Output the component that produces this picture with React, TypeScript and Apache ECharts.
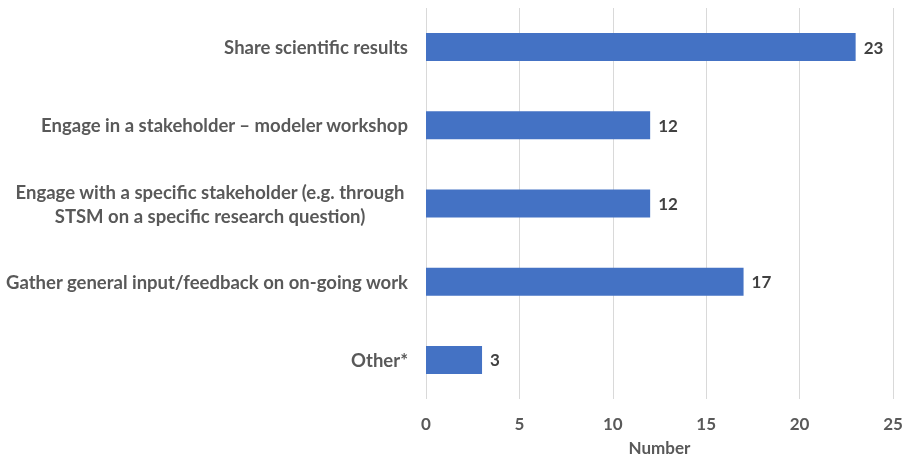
import React, { useEffect, useRef } from "react";
import * as echarts from "echarts";

const categories = [
  "Share scientific results",
  "Engage in a stakeholder – modeler workshop",
  "Engage with a specific stakeholder (e.g. through\nSTSM on a specific research question)",
  "Gather general input/feedback on on-going work",
  "Other*",
];
const values = [23, 12, 12, 17, 3];
const xTicks = { min: 0, max: 25, interval: 5 };
const xName = "Number";

export default function App() {
  const ref = useRef<HTMLDivElement>(null);
  useEffect(() => {
    if (!ref.current) return;
    const chart = echarts.init(ref.current, null, { renderer: "svg" });
    const font = "Lato, 'Open Sans', sans-serif";
    const gray = "#595959";
    chart.setOption({
      animation: false,
      grid: {
        left: 426,
        right: 10,
        top: 8,
        bottom: 60,
        containLabel: false,
        outerBoundsMode: "none",
      },
      xAxis: {
        type: "value",
        min: xTicks.min,
        max: xTicks.max,
        interval: xTicks.interval,
        name: xName,
        nameLocation: "middle",
        nameGap: 40,
        nameTextStyle: { color: gray, fontWeight: "bold", fontSize: 17, fontFamily: font },
        axisLine: { show: false },
        axisTick: { show: false },
        axisLabel: { color: gray, fontWeight: "bold", fontSize: 17, fontFamily: font, margin: 16 },
        splitLine: { lineStyle: { color: "#d9d9d9", width: 1 } },
      },
      yAxis: {
        type: "category",
        inverse: true,
        data: categories,
        axisLine: { show: false },
        axisTick: { show: false },
        axisLabel: {
          margin: 18,
          color: gray,
          fontWeight: "bold",
          fontSize: 18.5,
          fontFamily: font,
          lineHeight: 24,
          formatter: (v: string) => {
            if (v.includes("\n")) {
              return v
                .split("\n")
                .map((l) => `{c|${l}}`)
                .join("\n");
            }
            return v;
          },
          rich: {
            c: {
              width: 396,
              align: "center",
              color: gray,
              fontWeight: "bold",
              fontSize: 18.5,
              fontFamily: font,
              lineHeight: 24,
            },
          },
        },
      },
      series: [
        {
          type: "bar",
          data: values,
          barWidth: 28,
          itemStyle: { color: "#4472C4" },
          label: {
            show: true,
            position: "right",
            distance: 8,
            color: "#404040",
            fontWeight: "bold",
            fontSize: 17,
            fontFamily: font,
          },
        },
      ],
    });
    return () => chart.dispose();
  }, []);
  return (
    <div
      ref={ref}
      style={{ position: "fixed", left: 0, top: 0, width: 903, height: 459 }}
    />
  );
}
